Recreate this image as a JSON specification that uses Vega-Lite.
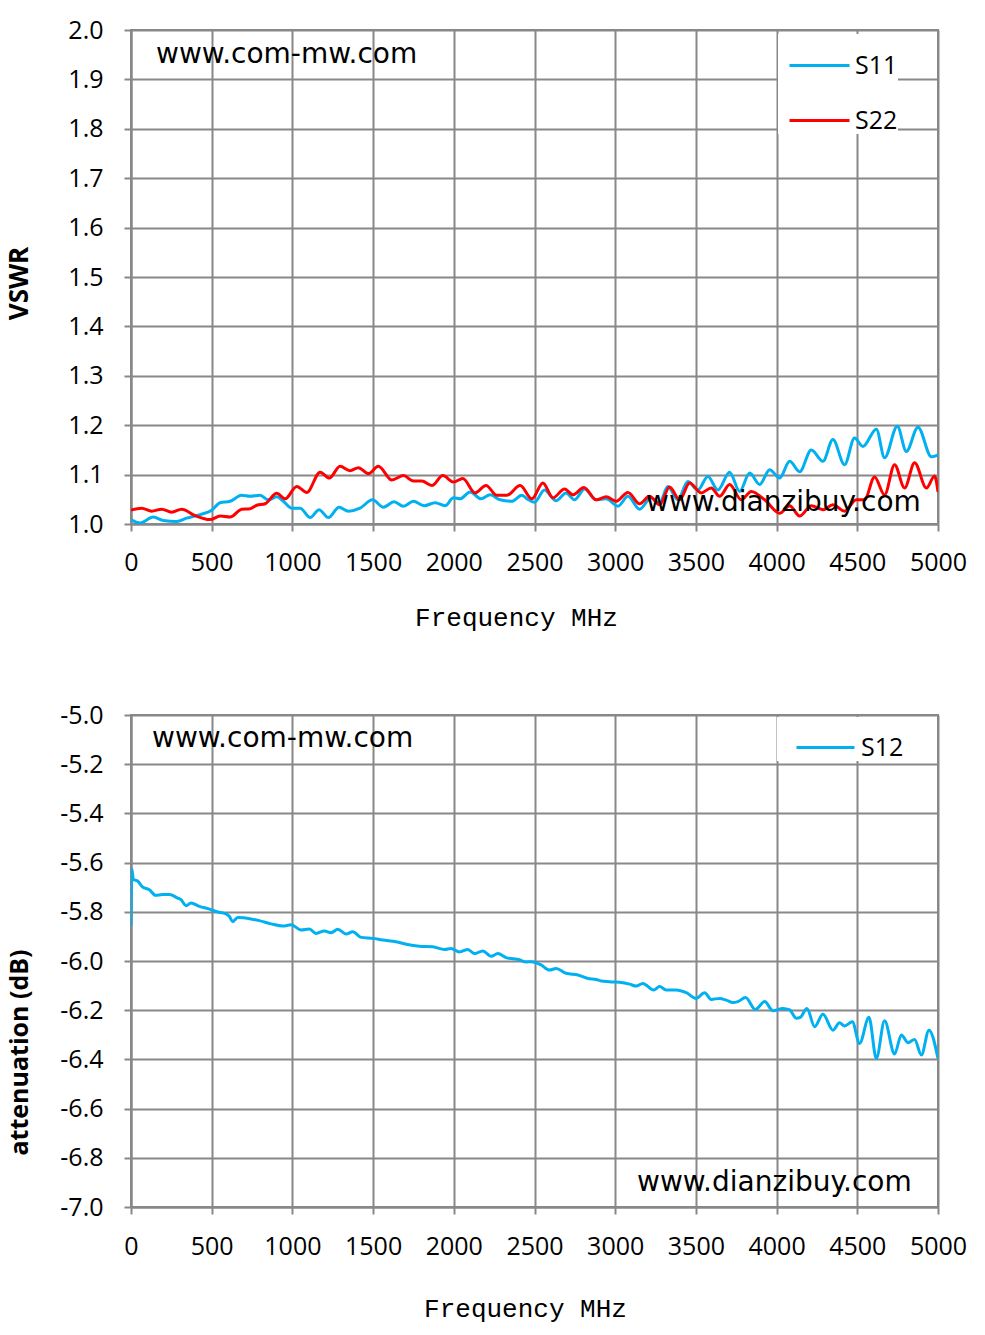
{
  "$schema": "https://vega.github.io/schema/vega-lite/v6.json",
  "background": "white",
  "padding": {"top": 17, "left": 5, "right": 5, "bottom": 5},
  "spacing": 71,
  "config": {
    "view": {"stroke": "#888888", "strokeWidth": 2},
    "axis": {
      "domainColor": "#888888",
      "domainWidth": 2,
      "gridColor": "#888888",
      "gridWidth": 2,
      "tickColor": "#888888",
      "tickWidth": 2,
      "tickSize": 7,
      "labelFont": "Open Sans",
      "labelFontSize": 25,
      "labelColor": "black",
      "titleColor": "black",
      "labelOverlap": false
    }
  },
  "resolve": {"scale": {"color": "independent"}},
  "datasets": {
    "vswr": [
      {"f": 0, "v": 1.009, "s": "S11"}, {"f": 56, "v": 1.002, "s": "S11"}, {"f": 138, "v": 1.014, "s": "S11"},
      {"f": 200, "v": 1.007, "s": "S11"}, {"f": 283, "v": 1.005, "s": "S11"}, {"f": 345, "v": 1.012, "s": "S11"},
      {"f": 428, "v": 1.019, "s": "S11"}, {"f": 500, "v": 1.028, "s": "S11"}, {"f": 552, "v": 1.043, "s": "S11"},
      {"f": 614, "v": 1.046, "s": "S11"}, {"f": 686, "v": 1.058, "s": "S11"}, {"f": 738, "v": 1.056, "s": "S11"},
      {"f": 800, "v": 1.058, "s": "S11"}, {"f": 851, "v": 1.049, "s": "S11"}, {"f": 903, "v": 1.055, "s": "S11"},
      {"f": 944, "v": 1.046, "s": "S11"}, {"f": 996, "v": 1.032, "s": "S11"}, {"f": 1048, "v": 1.032, "s": "S11"},
      {"f": 1110, "v": 1.013, "s": "S11"}, {"f": 1165, "v": 1.029, "s": "S11"}, {"f": 1223, "v": 1.013, "s": "S11"},
      {"f": 1289, "v": 1.034, "s": "S11"}, {"f": 1347, "v": 1.026, "s": "S11"}, {"f": 1419, "v": 1.032, "s": "S11"},
      {"f": 1496, "v": 1.049, "s": "S11"}, {"f": 1564, "v": 1.034, "s": "S11"}, {"f": 1630, "v": 1.045, "s": "S11"},
      {"f": 1688, "v": 1.036, "s": "S11"}, {"f": 1750, "v": 1.046, "s": "S11"}, {"f": 1816, "v": 1.037, "s": "S11"},
      {"f": 1884, "v": 1.043, "s": "S11"}, {"f": 1946, "v": 1.037, "s": "S11"}, {"f": 1998, "v": 1.053, "s": "S11"},
      {"f": 2039, "v": 1.051, "s": "S11"}, {"f": 2101, "v": 1.065, "s": "S11"}, {"f": 2169, "v": 1.051, "s": "S11"},
      {"f": 2225, "v": 1.059, "s": "S11"}, {"f": 2287, "v": 1.049, "s": "S11"}, {"f": 2359, "v": 1.046, "s": "S11"},
      {"f": 2421, "v": 1.058, "s": "S11"}, {"f": 2463, "v": 1.049, "s": "S11"}, {"f": 2500, "v": 1.044, "s": "S11"},
      {"f": 2562, "v": 1.069, "s": "S11"}, {"f": 2634, "v": 1.047, "s": "S11"}, {"f": 2696, "v": 1.063, "s": "S11"},
      {"f": 2748, "v": 1.049, "s": "S11"}, {"f": 2810, "v": 1.071, "s": "S11"}, {"f": 2882, "v": 1.049, "s": "S11"},
      {"f": 2944, "v": 1.051, "s": "S11"}, {"f": 3017, "v": 1.036, "s": "S11"}, {"f": 3079, "v": 1.056, "s": "S11"},
      {"f": 3151, "v": 1.030, "s": "S11"}, {"f": 3223, "v": 1.053, "s": "S11"}, {"f": 3275, "v": 1.043, "s": "S11"},
      {"f": 3326, "v": 1.076, "s": "S11"}, {"f": 3388, "v": 1.049, "s": "S11"}, {"f": 3450, "v": 1.086, "s": "S11"},
      {"f": 3512, "v": 1.069, "s": "S11"}, {"f": 3574, "v": 1.096, "s": "S11"}, {"f": 3636, "v": 1.069, "s": "S11"},
      {"f": 3709, "v": 1.105, "s": "S11"}, {"f": 3771, "v": 1.066, "s": "S11"}, {"f": 3833, "v": 1.103, "s": "S11"},
      {"f": 3895, "v": 1.080, "s": "S11"}, {"f": 3957, "v": 1.110, "s": "S11"}, {"f": 4019, "v": 1.093, "s": "S11"},
      {"f": 4081, "v": 1.127, "s": "S11"}, {"f": 4143, "v": 1.106, "s": "S11"}, {"f": 4215, "v": 1.150, "s": "S11"},
      {"f": 4287, "v": 1.127, "s": "S11"}, {"f": 4349, "v": 1.171, "s": "S11"}, {"f": 4421, "v": 1.120, "s": "S11"},
      {"f": 4483, "v": 1.174, "s": "S11"}, {"f": 4535, "v": 1.157, "s": "S11"}, {"f": 4618, "v": 1.192, "s": "S11"},
      {"f": 4669, "v": 1.134, "s": "S11"}, {"f": 4748, "v": 1.198, "s": "S11"}, {"f": 4804, "v": 1.147, "s": "S11"},
      {"f": 4876, "v": 1.196, "s": "S11"}, {"f": 4959, "v": 1.136, "s": "S11"}, {"f": 5000, "v": 1.140, "s": "S11"},
      {"f": 0, "v": 1.028, "s": "S22"}, {"f": 66, "v": 1.032, "s": "S22"}, {"f": 128, "v": 1.026, "s": "S22"},
      {"f": 190, "v": 1.030, "s": "S22"}, {"f": 252, "v": 1.024, "s": "S22"}, {"f": 314, "v": 1.030, "s": "S22"},
      {"f": 397, "v": 1.017, "s": "S22"}, {"f": 490, "v": 1.009, "s": "S22"}, {"f": 552, "v": 1.016, "s": "S22"},
      {"f": 614, "v": 1.014, "s": "S22"}, {"f": 686, "v": 1.030, "s": "S22"}, {"f": 738, "v": 1.031, "s": "S22"},
      {"f": 779, "v": 1.038, "s": "S22"}, {"f": 831, "v": 1.041, "s": "S22"}, {"f": 903, "v": 1.062, "s": "S22"},
      {"f": 955, "v": 1.051, "s": "S22"}, {"f": 1027, "v": 1.076, "s": "S22"}, {"f": 1089, "v": 1.064, "s": "S22"},
      {"f": 1172, "v": 1.105, "s": "S22"}, {"f": 1229, "v": 1.093, "s": "S22"}, {"f": 1295, "v": 1.117, "s": "S22"},
      {"f": 1357, "v": 1.108, "s": "S22"}, {"f": 1409, "v": 1.114, "s": "S22"}, {"f": 1471, "v": 1.102, "s": "S22"},
      {"f": 1533, "v": 1.117, "s": "S22"}, {"f": 1616, "v": 1.089, "s": "S22"}, {"f": 1688, "v": 1.098, "s": "S22"},
      {"f": 1750, "v": 1.087, "s": "S22"}, {"f": 1802, "v": 1.087, "s": "S22"}, {"f": 1864, "v": 1.078, "s": "S22"},
      {"f": 1932, "v": 1.098, "s": "S22"}, {"f": 1998, "v": 1.085, "s": "S22"}, {"f": 2056, "v": 1.092, "s": "S22"},
      {"f": 2132, "v": 1.063, "s": "S22"}, {"f": 2200, "v": 1.078, "s": "S22"}, {"f": 2266, "v": 1.058, "s": "S22"},
      {"f": 2328, "v": 1.058, "s": "S22"}, {"f": 2411, "v": 1.078, "s": "S22"}, {"f": 2484, "v": 1.051, "s": "S22"},
      {"f": 2552, "v": 1.083, "s": "S22"}, {"f": 2614, "v": 1.053, "s": "S22"}, {"f": 2686, "v": 1.071, "s": "S22"},
      {"f": 2738, "v": 1.059, "s": "S22"}, {"f": 2806, "v": 1.074, "s": "S22"}, {"f": 2882, "v": 1.049, "s": "S22"},
      {"f": 2944, "v": 1.055, "s": "S22"}, {"f": 3006, "v": 1.046, "s": "S22"}, {"f": 3079, "v": 1.064, "s": "S22"},
      {"f": 3151, "v": 1.041, "s": "S22"}, {"f": 3213, "v": 1.056, "s": "S22"}, {"f": 3275, "v": 1.039, "s": "S22"},
      {"f": 3337, "v": 1.075, "s": "S22"}, {"f": 3399, "v": 1.049, "s": "S22"}, {"f": 3461, "v": 1.083, "s": "S22"},
      {"f": 3533, "v": 1.063, "s": "S22"}, {"f": 3595, "v": 1.073, "s": "S22"}, {"f": 3647, "v": 1.056, "s": "S22"},
      {"f": 3709, "v": 1.080, "s": "S22"}, {"f": 3781, "v": 1.049, "s": "S22"}, {"f": 3843, "v": 1.066, "s": "S22"},
      {"f": 3926, "v": 1.049, "s": "S22"}, {"f": 4019, "v": 1.022, "s": "S22"}, {"f": 4081, "v": 1.037, "s": "S22"},
      {"f": 4143, "v": 1.016, "s": "S22"}, {"f": 4215, "v": 1.037, "s": "S22"}, {"f": 4287, "v": 1.029, "s": "S22"},
      {"f": 4349, "v": 1.039, "s": "S22"}, {"f": 4421, "v": 1.026, "s": "S22"}, {"f": 4494, "v": 1.049, "s": "S22"},
      {"f": 4545, "v": 1.049, "s": "S22"}, {"f": 4607, "v": 1.095, "s": "S22"}, {"f": 4669, "v": 1.059, "s": "S22"},
      {"f": 4731, "v": 1.120, "s": "S22"}, {"f": 4793, "v": 1.073, "s": "S22"}, {"f": 4855, "v": 1.124, "s": "S22"},
      {"f": 4928, "v": 1.073, "s": "S22"}, {"f": 4979, "v": 1.097, "s": "S22"}, {"f": 5000, "v": 1.065, "s": "S22"}
    ],
    "s12": [
      {"f": 0, "v": -5.857, "s": "S12"}, {"f": 6, "v": -5.627, "s": "S12"}, {"f": 14, "v": -5.668, "s": "S12"},
      {"f": 41, "v": -5.675, "s": "S12"}, {"f": 72, "v": -5.699, "s": "S12"}, {"f": 114, "v": -5.710, "s": "S12"},
      {"f": 151, "v": -5.733, "s": "S12"}, {"f": 196, "v": -5.730, "s": "S12"}, {"f": 238, "v": -5.730, "s": "S12"},
      {"f": 289, "v": -5.744, "s": "S12"}, {"f": 310, "v": -5.751, "s": "S12"}, {"f": 341, "v": -5.775, "s": "S12"},
      {"f": 372, "v": -5.764, "s": "S12"}, {"f": 424, "v": -5.778, "s": "S12"}, {"f": 486, "v": -5.789, "s": "S12"},
      {"f": 527, "v": -5.799, "s": "S12"}, {"f": 589, "v": -5.808, "s": "S12"}, {"f": 610, "v": -5.819, "s": "S12"},
      {"f": 630, "v": -5.840, "s": "S12"}, {"f": 661, "v": -5.823, "s": "S12"}, {"f": 744, "v": -5.829, "s": "S12"},
      {"f": 795, "v": -5.836, "s": "S12"}, {"f": 868, "v": -5.849, "s": "S12"}, {"f": 940, "v": -5.858, "s": "S12"},
      {"f": 992, "v": -5.853, "s": "S12"}, {"f": 1054, "v": -5.874, "s": "S12"}, {"f": 1105, "v": -5.870, "s": "S12"},
      {"f": 1147, "v": -5.888, "s": "S12"}, {"f": 1198, "v": -5.878, "s": "S12"}, {"f": 1240, "v": -5.885, "s": "S12"},
      {"f": 1281, "v": -5.871, "s": "S12"}, {"f": 1333, "v": -5.890, "s": "S12"}, {"f": 1374, "v": -5.881, "s": "S12"},
      {"f": 1426, "v": -5.904, "s": "S12"}, {"f": 1498, "v": -5.908, "s": "S12"}, {"f": 1560, "v": -5.915, "s": "S12"},
      {"f": 1643, "v": -5.922, "s": "S12"}, {"f": 1705, "v": -5.932, "s": "S12"}, {"f": 1787, "v": -5.940, "s": "S12"},
      {"f": 1870, "v": -5.942, "s": "S12"}, {"f": 1942, "v": -5.953, "s": "S12"}, {"f": 1983, "v": -5.949, "s": "S12"},
      {"f": 2035, "v": -5.963, "s": "S12"}, {"f": 2087, "v": -5.953, "s": "S12"}, {"f": 2128, "v": -5.970, "s": "S12"},
      {"f": 2180, "v": -5.959, "s": "S12"}, {"f": 2231, "v": -5.981, "s": "S12"}, {"f": 2273, "v": -5.970, "s": "S12"},
      {"f": 2324, "v": -5.986, "s": "S12"}, {"f": 2407, "v": -5.995, "s": "S12"}, {"f": 2448, "v": -6.004, "s": "S12"},
      {"f": 2479, "v": -6.003, "s": "S12"}, {"f": 2541, "v": -6.016, "s": "S12"}, {"f": 2593, "v": -6.037, "s": "S12"},
      {"f": 2634, "v": -6.030, "s": "S12"}, {"f": 2696, "v": -6.050, "s": "S12"}, {"f": 2769, "v": -6.057, "s": "S12"},
      {"f": 2831, "v": -6.071, "s": "S12"}, {"f": 2882, "v": -6.075, "s": "S12"}, {"f": 2913, "v": -6.081, "s": "S12"},
      {"f": 2965, "v": -6.084, "s": "S12"}, {"f": 3048, "v": -6.088, "s": "S12"}, {"f": 3089, "v": -6.094, "s": "S12"},
      {"f": 3130, "v": -6.102, "s": "S12"}, {"f": 3171, "v": -6.091, "s": "S12"}, {"f": 3238, "v": -6.118, "s": "S12"},
      {"f": 3275, "v": -6.104, "s": "S12"}, {"f": 3316, "v": -6.118, "s": "S12"}, {"f": 3378, "v": -6.118, "s": "S12"},
      {"f": 3440, "v": -6.129, "s": "S12"}, {"f": 3502, "v": -6.152, "s": "S12"}, {"f": 3554, "v": -6.129, "s": "S12"},
      {"f": 3595, "v": -6.156, "s": "S12"}, {"f": 3647, "v": -6.152, "s": "S12"}, {"f": 3688, "v": -6.159, "s": "S12"},
      {"f": 3729, "v": -6.169, "s": "S12"}, {"f": 3760, "v": -6.165, "s": "S12"}, {"f": 3808, "v": -6.148, "s": "S12"},
      {"f": 3868, "v": -6.197, "s": "S12"}, {"f": 3926, "v": -6.165, "s": "S12"}, {"f": 3977, "v": -6.202, "s": "S12"},
      {"f": 4039, "v": -6.193, "s": "S12"}, {"f": 4081, "v": -6.199, "s": "S12"}, {"f": 4122, "v": -6.233, "s": "S12"},
      {"f": 4147, "v": -6.229, "s": "S12"}, {"f": 4188, "v": -6.193, "s": "S12"}, {"f": 4236, "v": -6.267, "s": "S12"},
      {"f": 4287, "v": -6.216, "s": "S12"}, {"f": 4349, "v": -6.281, "s": "S12"}, {"f": 4390, "v": -6.251, "s": "S12"},
      {"f": 4421, "v": -6.264, "s": "S12"}, {"f": 4469, "v": -6.247, "s": "S12"}, {"f": 4514, "v": -6.335, "s": "S12"},
      {"f": 4572, "v": -6.229, "s": "S12"}, {"f": 4618, "v": -6.396, "s": "S12"}, {"f": 4669, "v": -6.243, "s": "S12"},
      {"f": 4731, "v": -6.378, "s": "S12"}, {"f": 4773, "v": -6.301, "s": "S12"}, {"f": 4814, "v": -6.332, "s": "S12"},
      {"f": 4855, "v": -6.319, "s": "S12"}, {"f": 4897, "v": -6.382, "s": "S12"}, {"f": 4944, "v": -6.281, "s": "S12"},
      {"f": 5000, "v": -6.396, "s": "S12"}
    ]
  },
  "vconcat": [
    {
      "width": 807,
      "height": 494,
      "layer": [
        {
          "data": {"name": "vswr"},
          "mark": {"type": "line", "strokeWidth": 3, "interpolate": "monotone", "clip": true},
          "encoding": {
            "x": {
              "field": "f",
              "type": "quantitative",
              "title": "Frequency MHz",
              "scale": {"domain": [0, 5000], "nice": false},
              "axis": {
                "values": [0, 500, 1000, 1500, 2000, 2500, 3000, 3500, 4000, 4500, 5000],
                "format": "d",
                "labelFlush": false,
                "labelPadding": 19,
                "titleFont": "Liberation Mono",
                "titleFontSize": 26,
                "titleFontWeight": "normal",
                "titleX": 385,
                "titleY": 93,
                "titleBaseline": "middle",
                "titleAlign": "center"
              }
            },
            "y": {
              "field": "v",
              "type": "quantitative",
              "title": "VSWR",
              "scale": {"domain": [1, 2], "nice": false, "zero": false},
              "axis": {
                "values": [1, 1.1, 1.2, 1.3, 1.4, 1.5, 1.6, 1.7, 1.8, 1.9, 2],
                "format": ".1f",
                "labelPadding": 21,
                "titleFont": "Open Sans",
                "titleFontSize": 26,
                "titleFontWeight": "bold",
                "titleX": -112,
                "titleY": 253,
                "titleBaseline": "middle",
                "titleAlign": "center"
              }
            },
            "color": {
              "field": "s",
              "type": "nominal",
              "scale": {"domain": ["S11", "S22"], "range": ["#00B0F0", "#FF0000"]},
              "legend": {
                "title": null,
                "orient": "none",
                "legendX": 647,
                "legendY": 4,
                "symbolType": "stroke",
                "symbolSize": 3600,
                "symbolStrokeWidth": 3,
                "symbolOffset": 10,
                "labelOffset": 4,
                "labelFont": "Open Sans",
                "labelFontSize": 25,
                "labelColor": "black",
                "fillColor": "white",
                "padding": 0,
                "rowPadding": 10
              }
            }
          }
        },
        {
          "data": {"values": [
            {"f": 155, "v": 1.949, "t": "www.com-mw.com"},
            {"f": 3191, "v": 1.0425, "t": "www.dianzibuy.com"}
          ]},
          "mark": {"type": "text", "font": "DejaVu Sans", "fontSize": 28, "align": "left", "baseline": "middle", "color": "black"},
          "encoding": {
            "x": {"field": "f", "type": "quantitative"},
            "y": {"field": "v", "type": "quantitative"},
            "text": {"field": "t"}
          }
        }
      ]
    },
    {
      "width": 807,
      "height": 492,
      "layer": [
        {
          "data": {"name": "s12"},
          "mark": {"type": "line", "strokeWidth": 3, "interpolate": "monotone", "clip": true},
          "encoding": {
            "x": {
              "field": "f",
              "type": "quantitative",
              "title": "Frequency MHz",
              "scale": {"domain": [0, 5000], "nice": false},
              "axis": {
                "values": [0, 500, 1000, 1500, 2000, 2500, 3000, 3500, 4000, 4500, 5000],
                "format": "d",
                "labelFlush": false,
                "labelPadding": 20,
                "titleFont": "Liberation Mono",
                "titleFontSize": 26,
                "titleFontWeight": "normal",
                "titleX": 394,
                "titleY": 101,
                "titleBaseline": "middle",
                "titleAlign": "center"
              }
            },
            "y": {
              "field": "v",
              "type": "quantitative",
              "title": "attenuation (dB)",
              "scale": {"domain": [-7, -5], "nice": false, "zero": false},
              "axis": {
                "values": [-7, -6.8, -6.6, -6.4, -6.2, -6, -5.8, -5.6, -5.4, -5.2, -5],
                "labelExpr": "replace(format(datum.value, '.1f'), '\u2212', '-')",
                "labelPadding": 21,
                "titleFont": "Open Sans",
                "titleFontSize": 25,
                "titleFontWeight": "bold",
                "titleX": -112,
                "titleY": 337,
                "titleBaseline": "middle",
                "titleAlign": "center"
              }
            },
            "color": {
              "field": "s",
              "type": "nominal",
              "scale": {"domain": ["S12"], "range": ["#00B0F0"]},
              "legend": {
                "title": null,
                "orient": "none",
                "legendX": 646,
                "legendY": 2,
                "symbolType": "stroke",
                "symbolSize": 3364,
                "symbolStrokeWidth": 3,
                "symbolOffset": 18,
                "labelOffset": 5,
                "labelFont": "Open Sans",
                "labelFontSize": 25,
                "labelColor": "black",
                "fillColor": "white",
                "padding": 0
              }
            }
          }
        },
        {
          "data": {"values": [
            {"f": 130, "v": -5.098, "t": "www.com-mw.com"},
            {"f": 3135, "v": -6.902, "t": "www.dianzibuy.com"}
          ]},
          "mark": {"type": "text", "font": "DejaVu Sans", "fontSize": 28, "align": "left", "baseline": "middle", "color": "black"},
          "encoding": {
            "x": {"field": "f", "type": "quantitative"},
            "y": {"field": "v", "type": "quantitative"},
            "text": {"field": "t"}
          }
        }
      ]
    }
  ]
}
